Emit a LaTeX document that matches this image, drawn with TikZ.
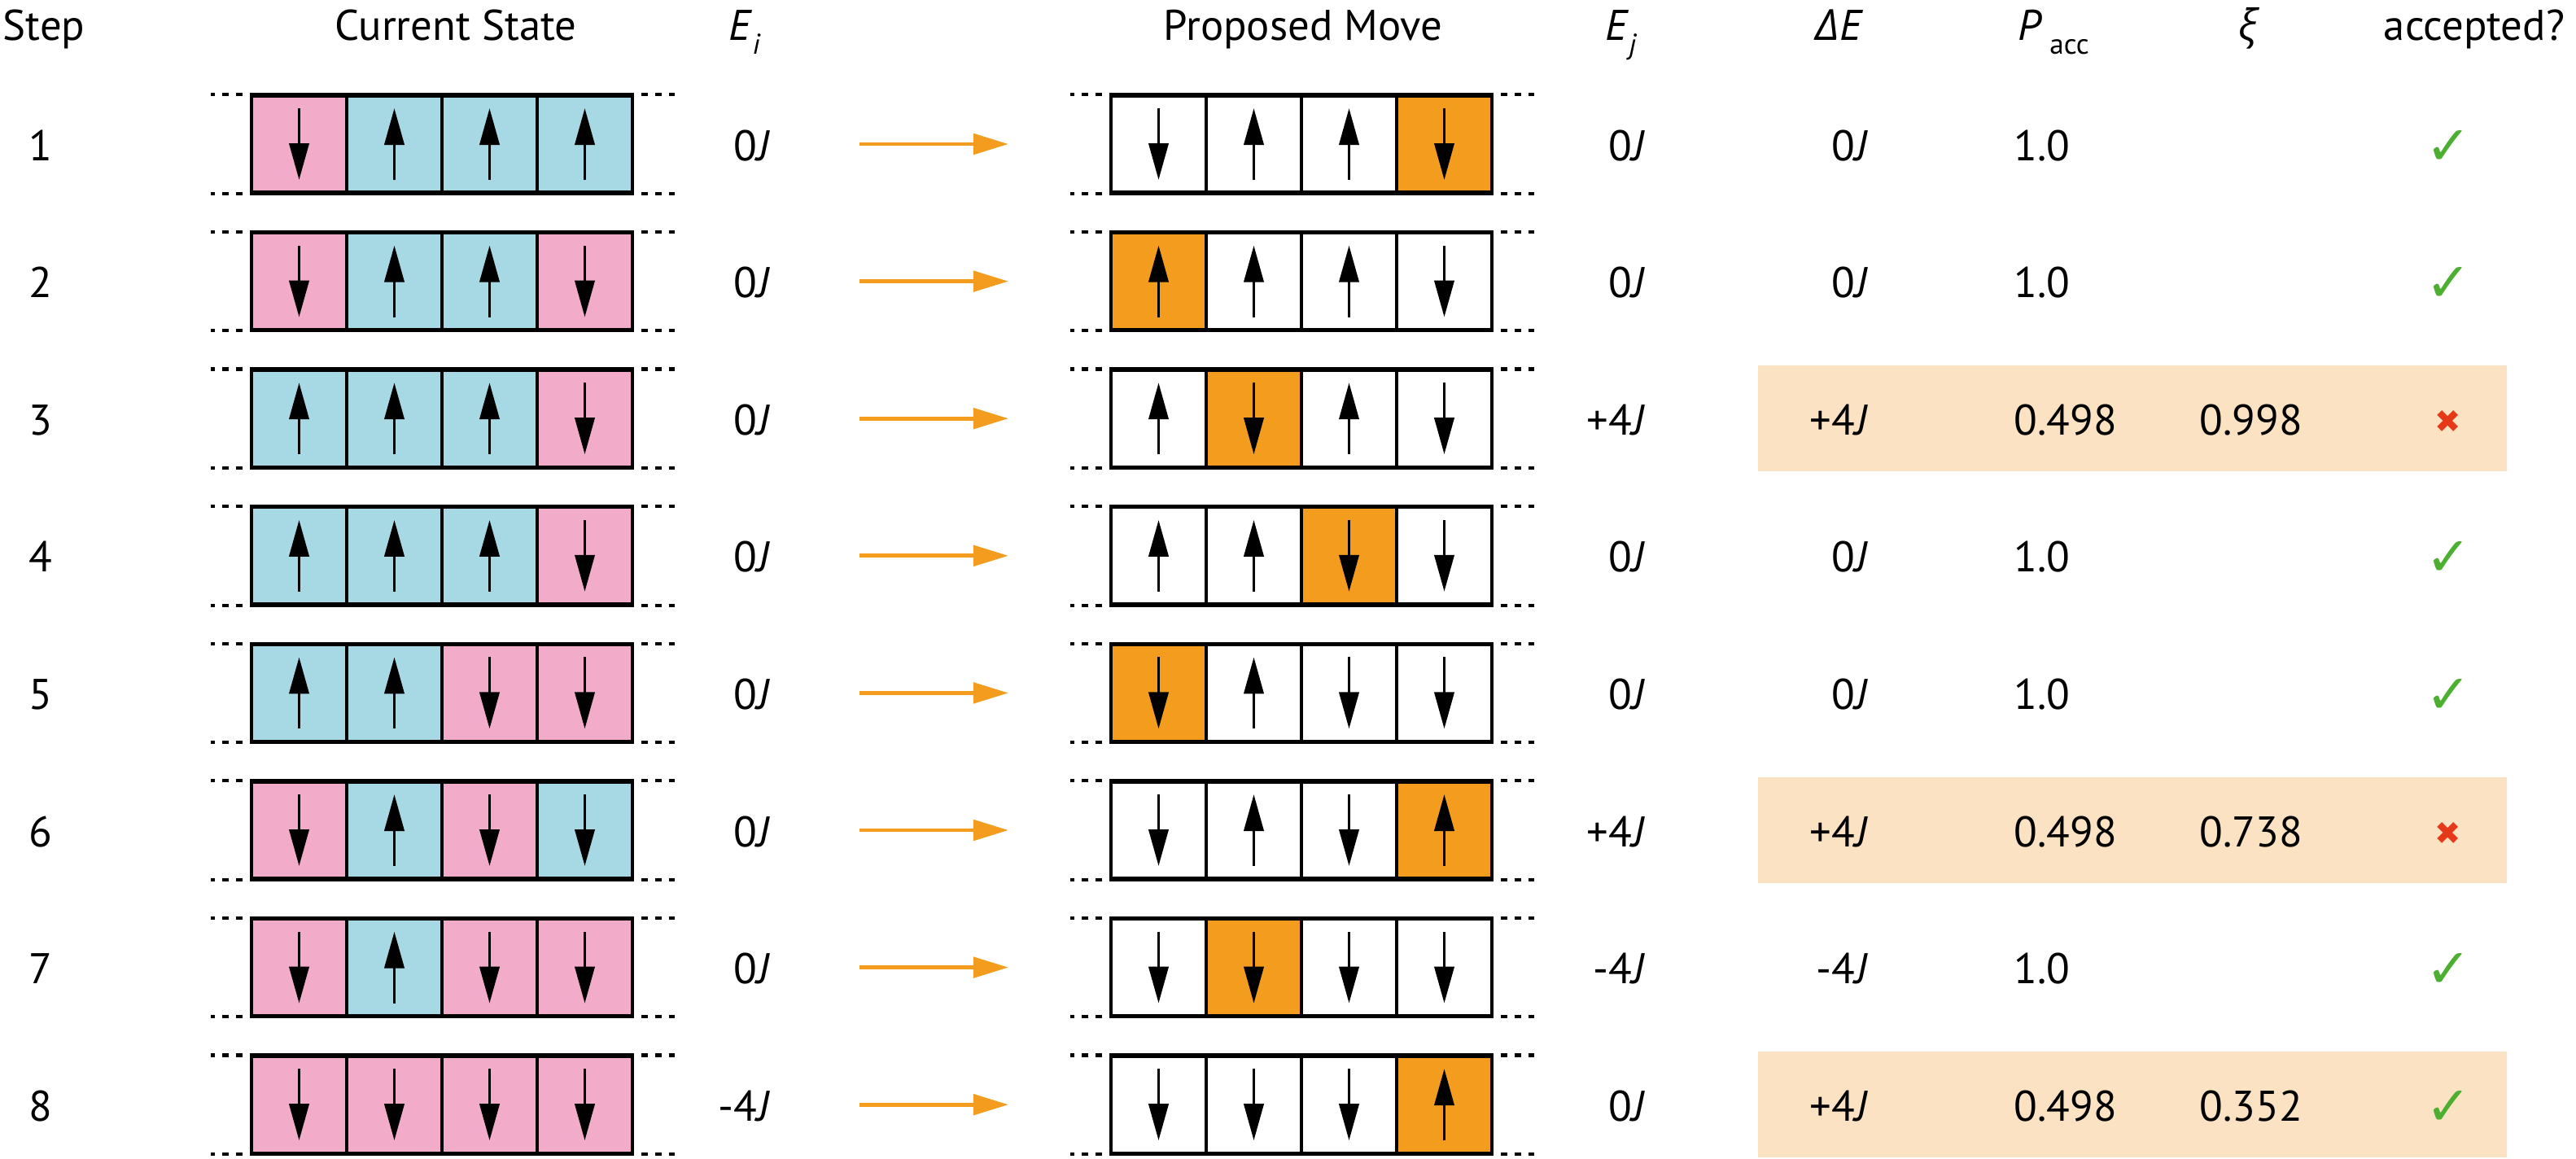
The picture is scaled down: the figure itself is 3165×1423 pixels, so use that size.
\documentclass[tikz,border=0pt]{standalone}
\usepackage{fontspec}
\setmainfont{PT Sans}
\newfontfamily\greekfont{Open Sans}
\newfontfamily\symbfont{DejaVu Sans}
\usetikzlibrary{arrows.meta,positioning}

\definecolor{curb}{HTML}{A6D9E4}
\definecolor{curp}{HTML}{F2ACCA}
\definecolor{moveorange}{HTML}{F39C1E}
\definecolor{hlbg}{HTML}{FAE2C2}
\definecolor{okgreen}{HTML}{4DAF32}
\definecolor{nored}{HTML}{E6391A}

\newcommand\yesmark{\textcolor{okgreen}{\fontsize{19}{19}\selectfont\symbfont ✓}}
\newcommand\nomark{\textcolor{nored}{\fontsize{11}{11}\selectfont\symbfont ✖}}
\newcommand\lowsub[1]{\raisebox{-5pt}{\fontsize{10}{12}\selectfont #1}}

\tikzset{
  cell/.style={draw, line width=0.95pt, minimum width=1.17cm, minimum height=1.18cm, inner sep=0pt},
  spinline/.style={line width=1.1pt},
  spinu/.style={spinline, -{Triangle[length=0.45cm,width=0.24cm]}},
  spind/.style={spinline, {Triangle[length=0.45cm,width=0.24cm]}-},
  rim/.style={line width=1.2pt},
  dots/.style={line width=1.15pt, dash pattern=on 0.08cm off 0.09cm, dash phase=0.08cm},
  move/.style={moveorange, line width=1.4pt, -{Triangle[length=0.43cm,width=0.25cm]}},
  txt/.style={font=\fontsize{15}{18}\selectfont, inner sep=0pt, anchor=base},
  hl/.style={fill=hlbg}
}

\begin{document}
\begin{tikzpicture}[x=0.01cm, y=-0.01cm]
\useasboundingbox (0,0) rectangle (3165,1423);

\foreach \r in {3,6,8}
  \fill[hl] (2160,{177+168.6*(\r-1)-65}) rectangle (3080,{177+168.6*(\r-1)+65});

\node[txt] (hstep) at (54,49) {Step};
\node[txt] (hcur) at (560,49) {Current State};
\node[txt, anchor=base west] (hei) at (895,49) {\textit{E}\lowsub{\textit{i}}};
\node[txt] (hprop) at (1601,49) {Proposed Move};
\node[txt, anchor=base west] (hej) at (1972,49) {\textit{E}\lowsub{\textit{j}}};
\node[txt, anchor=base west] (hde) at (2230,49) {{\greekfont\itshape Δ}\textit{E}};
\node[txt, anchor=base west] (hpa) at (2479,49) {\textit{P}\,\lowsub{acc}};
\node[txt] (hxi) at (2762,49) {{\greekfont\itshape ξ}};
\node[txt] (hok) at (3040,49) {accepted?};

\foreach \r/\cur/\prop/\f/\ei/\ej/\de/\pa/\rn/\ok in {
  1/{p/d,b/u,b/u,b/u}/{d,u,u,d}/4/0/0/0/1.0//\yesmark,
  2/{p/d,b/u,b/u,p/d}/{u,u,u,d}/1/0/0/0/1.0//\yesmark,
  3/{b/u,b/u,b/u,p/d}/{u,d,u,d}/2/0/+4/+4/0.498/0.998/\nomark,
  4/{b/u,b/u,b/u,p/d}/{u,u,d,d}/3/0/0/0/1.0//\yesmark,
  5/{b/u,b/u,p/d,p/d}/{d,u,d,d}/1/0/0/0/1.0//\yesmark,
  6/{p/d,b/u,p/d,b/d}/{d,u,d,u}/4/0/+4/+4/0.498/0.738/\nomark,
  7/{p/d,b/u,p/d,p/d}/{d,d,d,d}/2/0/-4/-4/1.0//\yesmark,
  8/{p/d,p/d,p/d,p/d}/{d,d,d,u}/4/-4/0/+4/0.498/0.352/\yesmark}
{
  \pgfmathsetmacro\y{177+168.6*(\r-1)}
  \node[txt] (step\r) at (50,\y+20) {\r};

  \foreach \c/\s [count=\k] in \cur {
    \node[cell, fill=cur\c] (cur\r-\k) at ({309+117*(\k-0.5)},\y) {};
    \draw[spin\s] ([yshift=-0.44cm]cur\r-\k.center) -- ([yshift=0.44cm]cur\r-\k.center);
  }
  \foreach \s [count=\k] in \prop {
    \ifnum\k=\f \def\pc{moveorange}\else\def\pc{white}\fi
    \node[cell, fill=\pc] (prop\r-\k) at ({1365+117*(\k-0.5)},\y) {};
    \draw[spin\s] ([yshift=-0.44cm]prop\r-\k.center) -- ([yshift=0.44cm]prop\r-\k.center);
  }
  \foreach \b in {cur,prop} {
    \draw[rim] (\b\r-1.north west) -- (\b\r-4.north east);
    \draw[rim] (\b\r-1.south west) -- (\b\r-4.south east);
    \draw[dots] (\b\r-1.north west) -- ([xshift=-0.48cm]\b\r-1.north west);
    \draw[dots] (\b\r-1.south west) -- ([xshift=-0.48cm]\b\r-1.south west);
    \draw[dots] (\b\r-4.north east) -- ([xshift=0.5cm]\b\r-4.north east);
    \draw[dots] (\b\r-4.south east) -- ([xshift=0.5cm]\b\r-4.south east);
  }

  \node[txt, anchor=base east] (ei\r) at (947,\y+20) {\ei\textit{J}};
  \coordinate (a\r) at (1056,\y);
  \coordinate (b\r) at (1239,\y);
  \draw[move] (a\r) -- (b\r);
  \node[txt, anchor=base east] (ej\r) at (2022,\y+20) {\ej\textit{J}};
  \node[txt, anchor=base east] (de\r) at (2296,\y+20) {\de\textit{J}};
  \node[txt, anchor=base west] (pa\r) at (2474,\y+20) {\pa};
  \node[txt, anchor=base west] (rn\r) at (2702,\y+20) {\rn};
  \node[inner sep=0pt] (ok\r) at (3008,\y+4) {\ok};
}
\end{tikzpicture}
\end{document}
